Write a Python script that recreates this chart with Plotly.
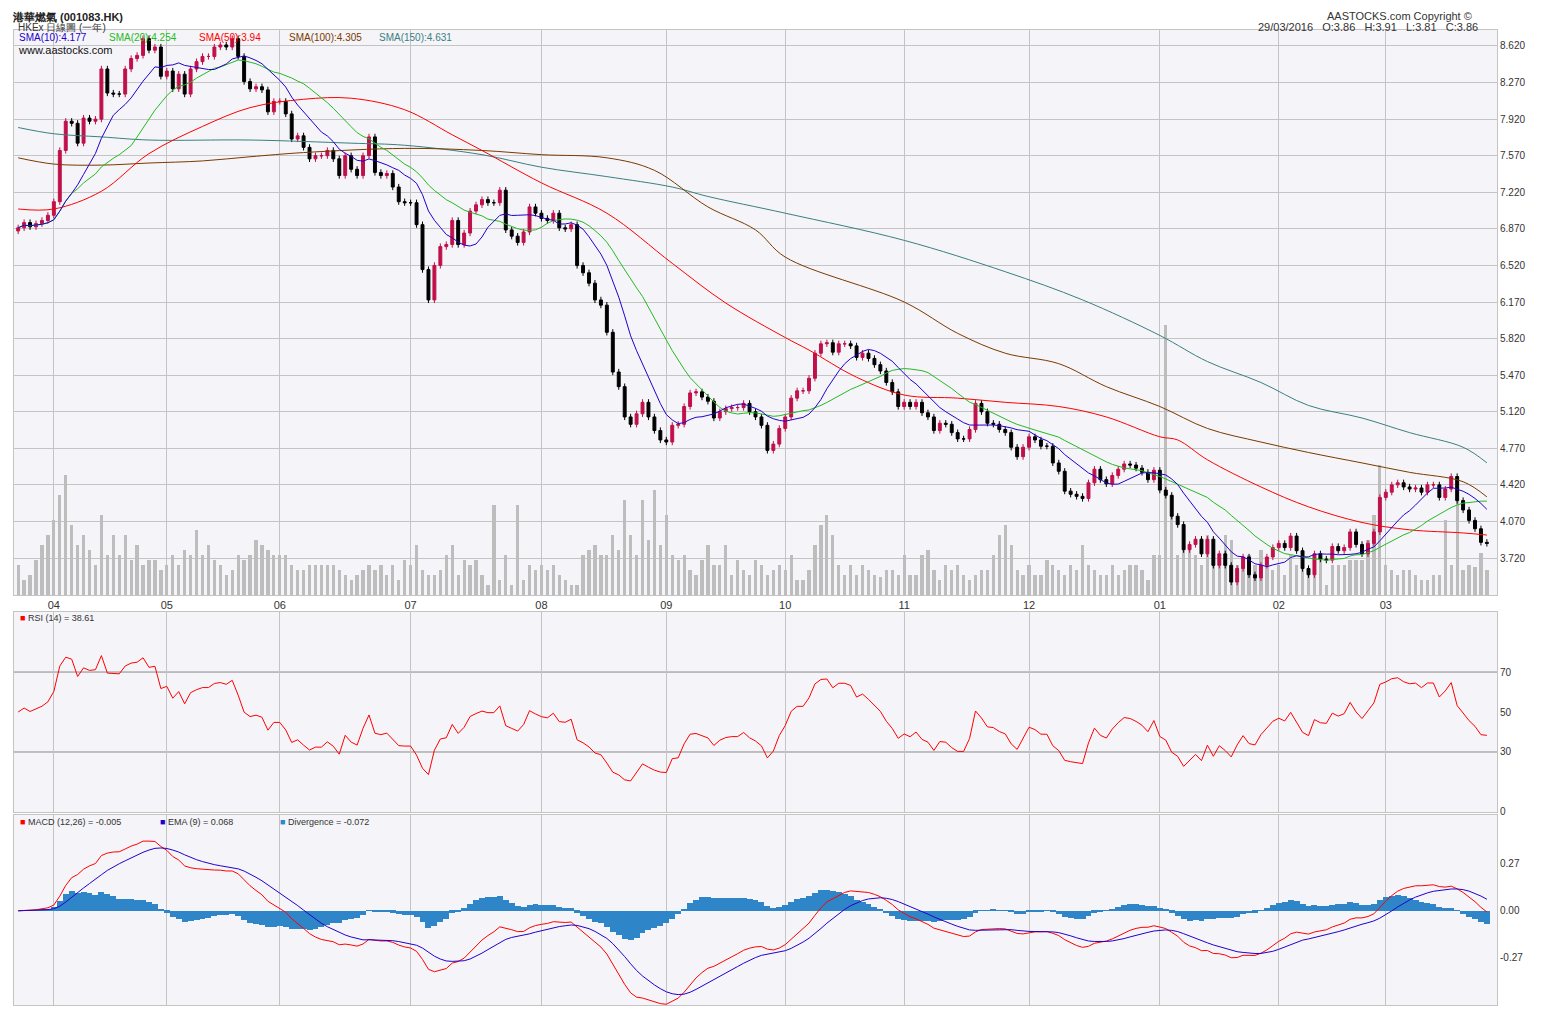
import numpy as np
import pandas as pd
import plotly.graph_objects as go

# daily closes, grouped by month (last days of Mar 2015 .. Mar 2016)
close_pre = [6.88, 6.93, 6.89, 6.92, 6.95, 7.00]
close_apr = [7.13, 7.62, 7.90, 7.88, 7.69, 7.93, 7.90, 7.92, 8.40, 8.17, 8.16, 8.16, 8.40, 8.50, 8.53, 8.69, 8.58, 8.61, 8.33]
close_may = [8.38, 8.21, 8.35, 8.16, 8.40, 8.47, 8.52, 8.52, 8.61, 8.63, 8.61, 8.69, 8.52, 8.28, 8.21, 8.23, 8.20, 7.99, 8.09]
close_jun = [8.09, 7.97, 7.73, 7.76, 7.65, 7.54, 7.57, 7.57, 7.62, 7.54, 7.38, 7.57, 7.44, 7.38, 7.57, 7.75, 7.41, 7.38, 7.40, 7.27, 7.13, 7.12]
close_jul = [7.12, 6.91, 6.48, 6.19, 6.52, 6.70, 6.72, 6.95, 6.72, 6.83, 7.04, 7.10, 7.15, 7.12, 7.12, 7.24, 6.86, 6.80, 6.74, 6.84, 7.08, 7.02]
close_aug = [6.97, 6.95, 7.02, 6.88, 6.87, 6.91, 6.52, 6.45, 6.35, 6.19, 6.14, 5.88, 5.50, 5.36, 5.07, 5.00, 5.10, 5.21, 5.07, 4.94, 4.85]
close_sep = [4.83, 4.99, 5.00, 5.17, 5.30, 5.31, 5.26, 5.22, 5.06, 5.12, 5.15, 5.16, 5.16, 5.20, 5.12, 5.07, 4.99, 4.75, 4.81, 4.96]
close_oct = [5.07, 5.25, 5.32, 5.32, 5.44, 5.68, 5.77, 5.78, 5.69, 5.77, 5.77, 5.75, 5.64, 5.68, 5.63, 5.57, 5.51, 5.40, 5.31, 5.17]
close_nov = [5.21, 5.17, 5.21, 5.11, 5.07, 4.94, 5.01, 5.00, 4.92, 4.86, 4.86, 4.95, 5.20, 5.12, 5.01, 5.00, 4.95, 4.92, 4.78, 4.69, 4.78]
close_dec = [4.88, 4.85, 4.79, 4.79, 4.63, 4.55, 4.36, 4.33, 4.31, 4.29, 4.44, 4.57, 4.47, 4.43, 4.51, 4.57, 4.62, 4.61, 4.58, 4.54, 4.47, 4.56]
close_jan = [4.37, 4.32, 4.12, 4.04, 3.80, 3.85, 3.90, 3.76, 3.90, 3.65, 3.76, 3.65, 3.49, 3.62, 3.73, 3.56, 3.53, 3.65, 3.73, 3.82]
close_feb = [3.86, 3.82, 3.93, 3.79, 3.62, 3.56, 3.76, 3.71, 3.70, 3.83, 3.79, 3.82, 3.97, 3.85, 3.76, 3.86, 3.97, 4.30]
close_mar = [4.35, 4.42, 4.44, 4.40, 4.38, 4.39, 4.35, 4.42, 4.42, 4.30, 4.38, 4.50, 4.27, 4.18, 4.08, 4.00, 3.87, 3.86]

# volume (millions of shares, approximate)
vol_pre = [3, 1.5, 2, 3.5, 5, 6]
vol_apr = [7.5, 10, 12, 7, 5, 6, 4.5, 3, 8, 4, 6, 4, 6, 3.5, 5, 3, 3.5, 3.5, 2.5]
vol_may = [3, 4, 3, 4.5, 4, 6.5, 4, 5, 3.5, 3, 2, 2.5, 4, 3.5, 4, 5.5, 5, 4.5, 4]
vol_jun = [4, 4, 3, 2.5, 2.5, 3, 3, 3, 3, 3, 2.5, 2, 1.5, 2, 2.5, 3, 2.5, 3, 2, 3, 1.5, 3.5]
vol_jul = [3, 5, 2.5, 2, 2, 2.5, 4, 5, 2, 3.5, 3, 3.5, 2, 1, 9, 1.5, 4, 1, 9, 1.5, 3, 2.5]
vol_aug = [3, 2.5, 3, 2, 1.5, 1, 1, 4, 4.5, 5, 4, 4, 6, 4.5, 9.5, 6, 4, 9.5, 5.5, 10.5, 5]
vol_sep = [8, 4, 3.5, 4, 2.5, 2, 3.5, 5, 3, 3, 5, 2, 3.5, 2.5, 2, 3.5, 3, 2, 2.5, 3]
vol_oct = [2.5, 4, 1.5, 1.5, 2.5, 5, 7, 8, 6, 3, 2, 3, 2, 3, 2.5, 2, 1.8, 2.5, 2.5, 2]
vol_nov = [4, 2, 2, 4, 4.5, 2.5, 1.5, 3, 2.5, 3, 2, 1.5, 2, 2.5, 2.5, 4, 6, 7, 5, 2.5, 2]
vol_dec = [3, 2, 2, 3.5, 3, 2.5, 2, 3, 2.5, 5, 3, 2.5, 2, 2, 3, 2, 2.5, 3, 3, 2.5, 1.5, 4]
vol_jan = [4, 27, 9, 4, 4.5, 5, 4, 3, 6, 5, 3.5, 6, 5.5, 3, 3, 4, 3, 4.5, 3.5, 2.5]
vol_feb = [3, 2, 4, 3, 3, 2, 4, 3.5, 1, 3, 3, 3, 3.5, 3.5, 3.5, 5.5, 8, 13]
vol_mar = [3, 2.5, 2, 2.5, 2.5, 2, 1.5, 1.5, 2, 2, 7.5, 3, 9.5, 2.5, 3, 2.8, 4.2, 2.5]

# longer moving averages read at sample days (day index, value)
sma50_idx = [0, 6, 14, 22, 31, 39, 48, 56, 65, 73, 78, 88, 99, 110, 119, 129, 133, 141, 149, 158, 166, 175, 183, 192, 195, 200, 209, 217, 226, 234, 243, 247]
sma50_val = [7.06, 7.06, 7.23, 7.59, 7.85, 8.03, 8.11, 8.12, 8.01, 7.77, 7.62, 7.31, 7.02, 6.54, 6.16, 5.83, 5.71, 5.45, 5.28, 5.25, 5.21, 5.17, 5.07, 4.88, 4.85, 4.66, 4.40, 4.21, 4.06, 3.99, 3.96, 3.94]
sma100_idx = [0, 6, 14, 22, 31, 39, 48, 65, 78, 88, 99, 107, 116, 124, 129, 149, 158, 166, 175, 183, 192, 200, 209, 217, 226, 234, 243, 247]
sma100_val = [7.55, 7.49, 7.48, 7.50, 7.52, 7.56, 7.60, 7.64, 7.62, 7.58, 7.55, 7.43, 7.08, 6.86, 6.60, 6.17, 5.87, 5.68, 5.58, 5.36, 5.17, 4.96, 4.83, 4.73, 4.63, 4.54, 4.45, 4.305]
sma150_idx = [0, 6, 14, 22, 39, 56, 65, 78, 88, 99, 110, 116, 129, 149, 166, 179, 192, 200, 209, 217, 226, 234, 243, 247]
sma150_val = [7.84, 7.78, 7.75, 7.72, 7.72, 7.69, 7.67, 7.58, 7.46, 7.37, 7.27, 7.18, 7.02, 6.76, 6.46, 6.19, 5.85, 5.60, 5.40, 5.18, 5.06, 4.92, 4.78, 4.631]

month_labels = ["04", "05", "06", "07", "08", "09", "10", "11", "12", "01", "02", "03"]

groups = [close_pre, close_apr, close_may, close_jun, close_jul, close_aug, close_sep,
          close_oct, close_nov, close_dec, close_jan, close_feb, close_mar]
close = pd.Series(sum(groups, []))
volume = sum([vol_pre, vol_apr, vol_may, vol_jun, vol_jul, vol_aug, vol_sep, vol_oct,
              vol_nov, vol_dec, vol_jan, vol_feb, vol_mar], [])
n = len(close)
x = np.arange(n)
month_ticks = list(np.cumsum([len(g) for g in groups])[:-1])

opn = close.shift(1).fillna(close.iloc[0] - 0.03)
high = np.maximum(opn, close) + 0.03
low = np.minimum(opn, close) - 0.03

sma10 = close.rolling(10, min_periods=1).mean()
sma20 = close.rolling(20, min_periods=1).mean()

# Wilder RSI, seeded neutral since no earlier history is on the chart
d = close.diff().fillna(0)
ag, al = 0.05, 0.05
rsi = []
for v in d:
    ag = (ag * 13 + max(v, 0)) / 14
    al = (al * 13 + max(-v, 0)) / 14
    rsi.append(100 - 100 / (1 + ag / al))

macd = close.ewm(span=12, adjust=False).mean() - close.ewm(span=26, adjust=False).mean()
signal = macd.ewm(span=9, adjust=False).mean()
hist = macd - signal

BG = "#F5F4F8"
GRID = "#C4C4C4"
font = "Liberation Sans, Arial"

fig = go.Figure()
fig.add_trace(go.Bar(x=x, y=volume, marker_color="#BDBDBD", marker_line_width=0, width=0.55,
                     xaxis="x", yaxis="y"))
fig.add_trace(go.Candlestick(x=x, open=opn, high=high, low=low, close=close, xaxis="x", yaxis="y2",
                             increasing=dict(line=dict(color="#C0104A", width=1), fillcolor="#C0104A"),
                             decreasing=dict(line=dict(color="#000000", width=1), fillcolor="#000000"),
                             whiskerwidth=0))
for yy, col, idx in [(sma150_val, "#3A8080", sma150_idx), (sma100_val, "#7A3A00", sma100_idx),
                     (sma50_val, "#FF0000", sma50_idx)]:
    fig.add_trace(go.Scatter(x=idx, y=yy, mode="lines", line=dict(color=col, width=1, shape="spline"),
                             xaxis="x", yaxis="y2"))
fig.add_trace(go.Scatter(x=x, y=sma20, mode="lines", line=dict(color="#22BB22", width=1), xaxis="x", yaxis="y2"))
fig.add_trace(go.Scatter(x=x, y=sma10, mode="lines", line=dict(color="#2200CC", width=1), xaxis="x", yaxis="y2"))

fig.add_trace(go.Scatter(x=x, y=rsi, mode="lines", line=dict(color="#FF0000", width=1), xaxis="x2", yaxis="y3"))

fig.add_trace(go.Bar(x=x, y=hist, marker_color="#2E86C8", marker_line_width=0, width=1.0, xaxis="x3", yaxis="y4"))
fig.add_trace(go.Scatter(x=x, y=macd, mode="lines", line=dict(color="#FF0000", width=1), xaxis="x3", yaxis="y4"))
fig.add_trace(go.Scatter(x=x, y=signal, mode="lines", line=dict(color="#2200CC", width=1), xaxis="x3", yaxis="y4"))

xr = [-0.7, n + 0.7]
xcommon = dict(range=xr, tickmode="array", tickvals=month_ticks, showgrid=True, gridcolor=GRID,
               zeroline=False, showline=True, linecolor=GRID, mirror=True, fixedrange=True)
ycommon = dict(side="right", showgrid=True, gridcolor=GRID, zeroline=False, showline=True,
               linecolor=GRID, mirror=True, tickfont=dict(size=10, color="#333"), ticks="")
ptick = [round(3.72 + 0.35 * i, 2) for i in range(15)]

# page has an 8px body margin, so the figure is sized to fit the 1550x1020 window
fig.update_layout(
    width=1542, height=1012, showlegend=False, paper_bgcolor="white", plot_bgcolor=BG,
    margin=dict(l=6, r=53, t=22, b=15), bargap=0, barmode="overlay",
    font=dict(family=font, size=10, color="#333"),
    xaxis=dict(xcommon, domain=[0, 1], anchor="y", ticktext=month_labels, showticklabels=True,
               rangeslider=dict(visible=False), tickfont=dict(size=11, color="#333")),
    yaxis=dict(domain=[0.4205, 1], range=[0, 56.5], visible=False, fixedrange=True),
    yaxis2=dict(ycommon, domain=[0.4205, 1], overlaying="y", anchor="x", range=[3.366, 8.773],
                tickvals=ptick, ticktext=[f"{v:.3f}" for v in ptick]),
    xaxis2=dict(xcommon, domain=[0, 1], anchor="y3", showticklabels=False),
    yaxis3=dict(ycommon, domain=[0.198, 0.403], anchor="x2", range=[0, 100], tickvals=[0, 30, 50, 70],
                showgrid=False),
    xaxis3=dict(xcommon, domain=[0, 1], anchor="y4", showticklabels=False),
    yaxis4=dict(ycommon, domain=[0, 0.195], anchor="x3", range=[-0.54, 0.55], tickvals=[-0.27, 0, 0.27],
                ticktext=["-0.27", "0.00", "0.27"], showgrid=False),
)
for lvl in [30, 70]:
    fig.add_shape(type="line", xref="x2", yref="y3", x0=xr[0], x1=xr[1], y0=lvl, y1=lvl,
                  line=dict(color="#888", width=1), layer="below")

ann = []
def txt(xp, yp, s, col="#333", size=10, anchor="left", bold=False):
    ann.append(dict(xref="paper", yref="paper", x=xp, y=yp, text=f"<b>{s}</b>" if bold else s,
                    showarrow=False, xanchor=anchor, yanchor="middle",
                    font=dict(color=col, size=size, family=font)))

W = 1542 - 6 - 53
H = 1012 - 22 - 15
def px(xx):
    return (xx - 14) / W
def py(yy):
    return (1005 - yy) / H

txt(px(10), py(17), "港華燃氣 (001083.HK)", "#222", 11, bold=True)
txt(px(16), py(27), "HKEx 日線圖 (一年)", "#333", 10)
txt(px(1474), py(16), "AASTOCKS.com Copyright ©", "#333", 11, "right")
txt(px(1480), py(27), "29/03/2016   O:3.86   H:3.91   L:3.81   C:3.86", "#333", 11, "right")
txt(px(17), py(38), "SMA(10):4.177", "#2200CC", 10)
txt(px(107), py(38), "SMA(20):4.254", "#22BB22", 10)
txt(px(197), py(38), "SMA(50):3.94", "#FF0000", 10)
txt(px(287), py(38), "SMA(100):4.305", "#7A3A00", 10)
txt(px(377), py(38), "SMA(150):4.631", "#3A8080", 10)
txt(px(16), py(50), "www.aastocks.com", "#111", 11)
txt(px(18), py(618), "<span style='color:#FF0000'>■</span> RSI (14) = 38.61", "#333", 9)
txt(px(18), py(822), "<span style='color:#FF0000'>■</span> MACD (12,26) = -0.005", "#333", 9)
txt(px(158), py(822), "<span style='color:#2200CC'>■</span> EMA (9) = 0.068", "#333", 9)
txt(px(278), py(822), "<span style='color:#2E86C8'>■</span> Divergence = -0.072", "#333", 9)
fig.update_layout(annotations=ann)

fig.write_html("out.html")
